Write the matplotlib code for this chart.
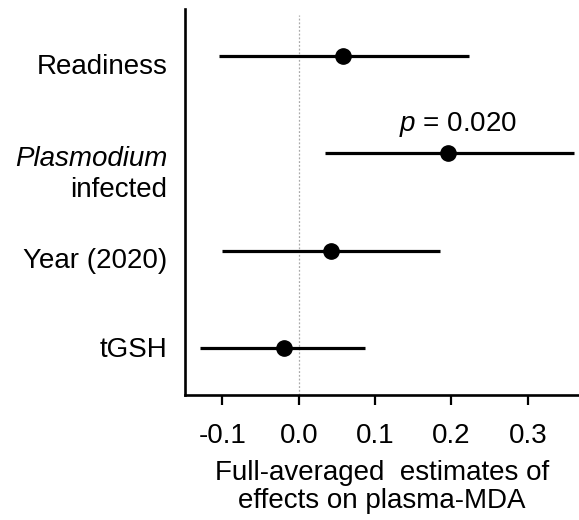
import matplotlib
matplotlib.use("Agg")
import matplotlib.pyplot as plt

plt.rcParams['font.family'] = ['Liberation Sans', 'DejaVu Sans']
plt.rcParams['mathtext.fontset'] = 'custom'
plt.rcParams['mathtext.rm'] = 'Liberation Sans'
plt.rcParams['mathtext.it'] = 'Liberation Sans:italic'

# Data
labels = ["Readiness", "Plasmodium\ninfected", "Year (2020)", "tGSH"]
estimates = [0.058, 0.196, 0.042, -0.019]
ci_low = [-0.105, 0.034, -0.100, -0.129]
ci_high = [0.223, 0.360, 0.185, 0.087]
xticks = [-0.1, 0.0, 0.1, 0.2, 0.3]
p_label = "0.020"

rows = [4, 3, 2, 1]
label_offsets = [-0.11, -0.22, -0.11, -0.02]

fig = plt.figure(figsize=(5.79, 5.2), dpi=100)
ax = fig.add_axes([185/579, 1 - 395/520, 1 - 185/579, (395 - 9)/520])

ax.axvline(0, ymin=0, ymax=(4.42 - 0.52)/3.96, color='#aaaaaa', lw=0.9, ls=(0, (1.5, 1.5)), zorder=1)

for y, est, lo, hi in zip(rows, estimates, ci_low, ci_high):
    ax.plot([lo, hi], [y, y], color='black', lw=2.3, solid_capstyle='butt', zorder=2)
    ax.plot(est, y, 'o', color='black', ms=11, zorder=3)

ax.text(estimates[1] + 0.012, rows[1] + 0.30, r"$\it{p}$ = " + p_label, ha='center', va='center', fontsize=20)

ax.set_xlim(-0.149, 0.367)
ax.set_ylim(0.52, 4.48)
ax.set_xticks(xticks)
ax.set_xticklabels([f"{t:.1f}" for t in xticks], fontsize=20)
ax.set_yticks([])
ax.tick_params(axis='x', length=7, width=1.6, pad=13, colors='black')

for sp in ['top', 'right']:
    ax.spines[sp].set_visible(False)
for sp in ['left', 'bottom']:
    ax.spines[sp].set_linewidth(1.9)

for lab, y, off in zip(labels, rows, label_offsets):
    if lab.startswith("Plasmodium"):
        first, second = lab.split("\n")
        ax.text(-0.045, y + off + 0.16, first, transform=ax.get_yaxis_transform(),
                ha='right', va='center', fontsize=20, style='italic')
        ax.text(-0.045, y + off - 0.16, second, transform=ax.get_yaxis_transform(),
                ha='right', va='center', fontsize=20)
    else:
        ax.text(-0.045, y + off, lab, transform=ax.get_yaxis_transform(),
                ha='right', va='center', fontsize=20)

ax.set_xlabel("Full-averaged  estimates of\neffects on plasma-MDA", fontsize=20, labelpad=8, linespacing=1.1)

fig.savefig("out.png", dpi=100)
